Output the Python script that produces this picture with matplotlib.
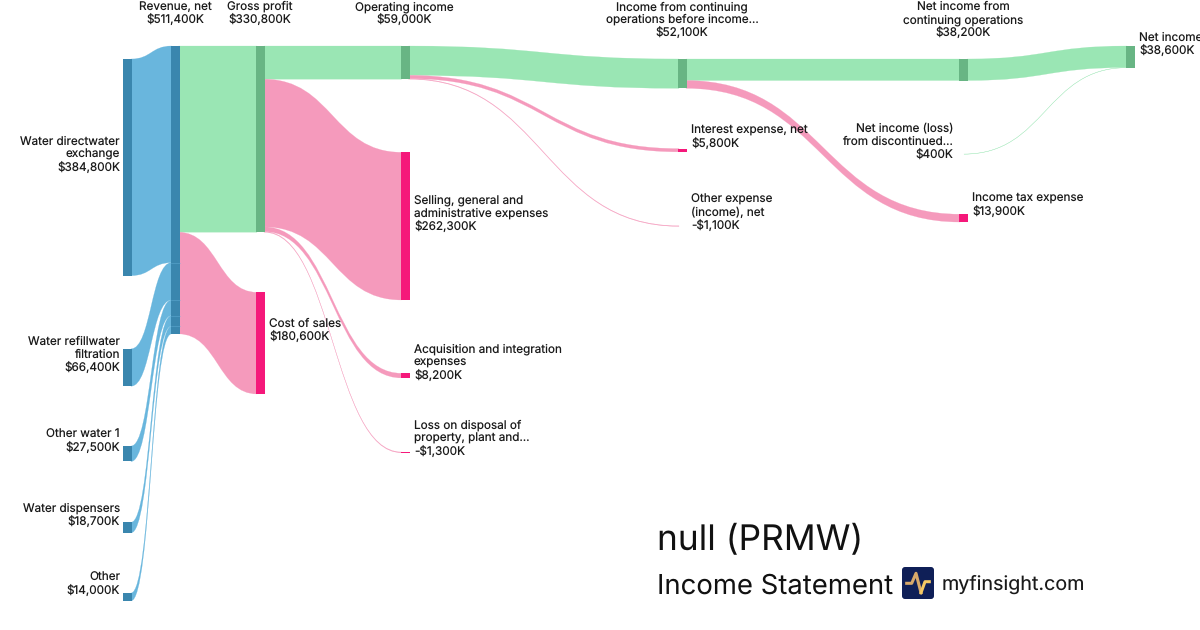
import matplotlib
matplotlib.use('Agg')
import matplotlib.pyplot as plt
from matplotlib.path import Path
from matplotlib.patches import PathPatch, Rectangle, FancyBboxPatch

plt.rcParams['font.family'] = ['Inter', 'DejaVu Sans']
plt.rcParams['text.hinting'] = 'no_hinting'

# values in $K, same order as the names
names = ['Water directwater\nexchange', 'Water refillwater\nfiltration', 'Other water 1',
         'Water dispensers', 'Other', 'Revenue, net', 'Gross profit', 'Cost of sales',
         'Operating income', 'Selling, general and\nadministrative expenses',
         'Acquisition and integration\nexpenses', 'Loss on disposal of\nproperty, plant and...',
         'Income from continuing\noperations before income...', 'Interest expense, net',
         'Other expense\n(income), net', 'Net income from\ncontinuing operations',
         'Income tax expense', 'Net income (loss)\nfrom discontinued...', 'Net income']
values = [384800, 66400, 27500, 18700, 14000, 511400, 330800, 180600, 59000, 262300,
          8200, -1300, 52100, 5800, -1100, 38200, 13900, 400, 38600]
kinds = ['rev', 'rev', 'rev', 'rev', 'rev', 'rev', 'profit', 'cost', 'profit', 'cost',
         'cost', 'cost', 'profit', 'cost', 'cost', 'profit', 'cost', 'profit', 'profit']

# source, target, both indexes into names
links = [(0, 5), (1, 5), (2, 5), (3, 5), (4, 5), (5, 6), (5, 7), (6, 8), (6, 9), (6, 10), (6, 11),
         (8, 12), (8, 13), (8, 14), (12, 15), (12, 16), (15, 18), (17, 18)]

# layout in pixels, left edge and top edge of each node
node_x = [123, 123, 123, 123, 123, 170.5, 256, 256, 400.5, 400.5, 400.5, 400.5,
          678, 678, 678, 959, 959, 956, 1126]
node_y = [59, 348.8, 446, 522.3, 593, 46, 46, 292.3, 46, 152.3, 373.3, 452,
          59, 148.6, 225.8, 59, 214.2, 154, 46]
# label anchor x, first line baseline y, alignment
label_pos = [(120, 144.8, 'right'), (120, 344.8, 'right'), (120, 437.8, 'right'), (120, 511.8, 'right'),
             (120, 580.8, 'right'), (175, 10, 'center'), (260, 10, 'center'), (269, 326.8, 'left'),
             (404, 10, 'center'), (414, 203.8, 'left'), (414, 352.8, 'left'), (414, 428.8, 'left'),
             (682, 10, 'center'), (691, 133.8, 'left'), (691, 202.8, 'left'), (963, 10, 'center'),
             (972, 201.8, 'left'), (953, 131.5, 'right'), (1139, 41, 'left')]

node_w = 9
px_per_k = 0.000563
link_colors = {'rev': '#69b6dd', 'profit': '#9ae6b4', 'cost': '#f59abc'}
node_colors = {'rev': '#3a86ae', 'profit': '#68b584', 'cost': '#f5187a'}


def draw_links(ax):
    out_used = [0] * len(names)
    in_used = [0] * len(names)
    for s, t in links:
        h = min(abs(values[s]), abs(values[t])) * px_per_k
        # run a pixel under the nodes so no seam shows
        x0 = node_x[s] + node_w - 1
        x1 = node_x[t] + 1
        y0 = node_y[s] + out_used[s]
        y1 = node_y[t] + in_used[t]
        out_used[s] += h
        in_used[t] += h
        xm = (x0 + x1) / 2
        verts = [(x0, y0), (xm, y0), (xm, y1), (x1, y1),
                 (x1, y1 + h), (xm, y1 + h), (xm, y0 + h), (x0, y0 + h), (x0, y0)]
        codes = [Path.MOVETO, Path.CURVE4, Path.CURVE4, Path.CURVE4, Path.LINETO,
                 Path.CURVE4, Path.CURVE4, Path.CURVE4, Path.CLOSEPOLY]
        color = link_colors[kinds[t]]
        ax.add_patch(PathPatch(Path(verts, codes), fc=color, ec=color, lw=0.15, zorder=1))


def draw_nodes(ax):
    for i in range(len(names)):
        h = abs(values[i]) * px_per_k
        ax.add_patch(Rectangle((node_x[i], node_y[i]), node_w, h, fc=node_colors[kinds[i]], ec='none', zorder=2))
    # thin separators where the revenue segments meet
    offset = node_y[5]
    for i in range(4):
        offset += values[i] * px_per_k
        ax.plot([node_x[5], node_x[5] + node_w], [offset, offset], color='#69b6dd', lw=0.4, alpha=0.7, zorder=3)


def draw_labels(ax):
    for i in range(len(names)):
        x, y, ha = label_pos[i]
        sign = '-' if values[i] < 0 else ''
        lines = names[i].split('\n') + [sign + '$' + format(abs(values[i]), ',') + 'K']
        for n, line in enumerate(lines):
            ax.text(x, y + n * 13, line, ha=ha, va='baseline', fontsize=8.45, color='#1a1a1a', zorder=4)


def draw_footer(ax):
    ax.text(657, 541, 'null (PRMW)', fontsize=25.4, color='#111111', va='center', ha='left')
    ax.text(657, 586, 'Income Statement', fontsize=19.8, color='#111111', va='center', ha='left')
    ax.text(942, 584.5, 'myfinsight.com', fontsize=14.2, color='#1a1a1a', va='center', ha='left')
    ax.add_patch(FancyBboxPatch((904, 569), 28, 28, boxstyle='round,pad=2,rounding_size=3',
                                fc='#0f1f57', ec='none'))
    ax.plot([906.7, 911.7, 916, 921], [583.3, 583.3, 573.3, 592.7], color='#d8a96a', lw=2.2, solid_joinstyle='round')
    ax.plot([921, 925, 929.3], [592.7, 581.7, 581.7], color='#f5c964', lw=2.2, solid_joinstyle='round')


if __name__ == '__main__':
    fig = plt.figure(figsize=(12, 6.3), dpi=100)
    ax = fig.add_axes([0, 0, 1, 1])
    ax.set_xlim(0, 1200)
    ax.set_ylim(630, 0)
    ax.axis('off')
    draw_links(ax)
    draw_nodes(ax)
    draw_labels(ax)
    draw_footer(ax)
    fig.savefig('out.png', dpi=100)
